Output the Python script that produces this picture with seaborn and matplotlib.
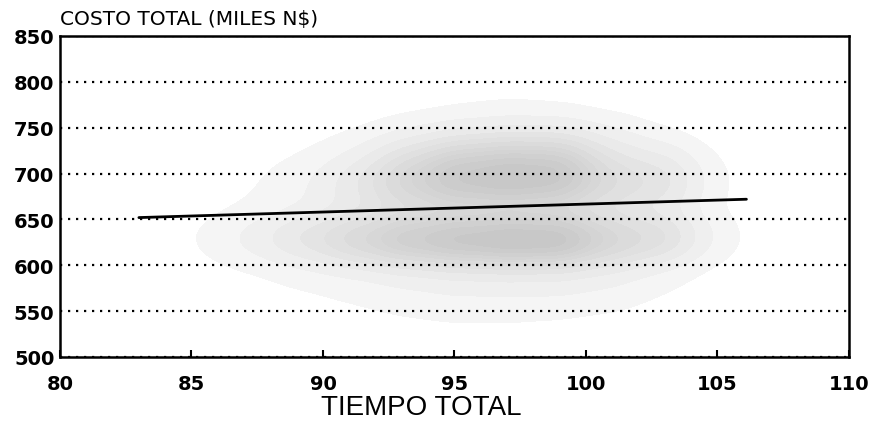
import matplotlib
matplotlib.use("Agg")
import matplotlib.pyplot as plt
import numpy as np
import pandas as pd
import seaborn as sns
from matplotlib.colors import LinearSegmentedColormap

# --- data ---
# cloud of simulated points, given as estimated point density per cell
cell_x = [85, 87, 89, 91, 93, 95, 97, 99, 101, 103, 105]
cell_y = [785, 775, 765, 755, 745, 735, 725, 715, 705, 695, 685, 675, 665, 655,
          645, 635, 625, 615, 605, 595, 585, 575, 565, 555, 545, 535, 525, 515]
density = [
    [0, 0, 0, 0, 0, 0.3, 0.5, 0.3, 0, 0, 0],
    [0, 0, 0, 0, 0.3, 0.5, 0.8, 0.6, 0.3, 0, 0],
    [0, 0, 0, 0.2, 0.5, 0.8, 1.0, 1.0, 0.5, 0.2, 0],
    [0, 0, 0, 0.3, 0.8, 1.2, 1.5, 1.5, 1.0, 0.3, 0],
    [0, 0, 0.2, 0.5, 1.3, 2.2, 2.5, 2.5, 1.5, 0.6, 0],
    [0, 0, 0.3, 0.8, 2.2, 3.5, 4.0, 4.0, 2.0, 1.2, 0.2],
    [0, 0.2, 0.4, 1.2, 3.0, 4.5, 5.0, 5.0, 2.5, 1.8, 0.3],
    [0, 0.3, 0.6, 1.5, 3.8, 6.0, 6.5, 6.5, 3.0, 2.5, 0.4],
    [0.1, 0.3, 0.8, 2.0, 4.5, 6.5, 7.0, 7.0, 3.5, 3.0, 0.5],
    [0.2, 0.4, 1.0, 2.5, 5.0, 7.0, 7.5, 7.5, 4.0, 3.5, 0.6],
    [0.2, 0.4, 1.0, 2.5, 5.0, 7.0, 7.5, 7.0, 4.0, 3.5, 0.6],
    [0.2, 0.5, 1.0, 2.2, 4.2, 5.5, 6.0, 5.5, 3.5, 3.0, 0.5],
    [0.2, 0.5, 1.0, 2.0, 3.0, 3.5, 3.5, 3.5, 2.5, 2.0, 0.4],
    [0.3, 0.8, 1.5, 2.5, 3.5, 4.0, 4.0, 4.0, 3.0, 2.5, 0.5],
    [0.4, 1.2, 2.5, 3.5, 5.0, 5.5, 6.0, 6.0, 4.0, 3.5, 0.8],
    [0.5, 1.5, 3.0, 4.5, 6.0, 7.0, 7.5, 7.5, 4.5, 4.0, 1.0],
    [0.5, 1.5, 3.0, 4.5, 6.5, 7.5, 8.0, 8.0, 5.0, 4.0, 1.0],
    [0.4, 1.2, 2.5, 4.0, 5.5, 6.5, 7.0, 7.0, 4.5, 3.5, 0.8],
    [0.3, 0.8, 1.5, 2.5, 3.5, 4.0, 4.5, 4.5, 3.0, 2.0, 0.5],
    [0.2, 0.5, 1.0, 1.5, 2.0, 2.5, 2.5, 2.5, 2.0, 1.0, 0.3],
    [0.1, 0.3, 0.7, 1.0, 1.5, 1.8, 2.0, 2.0, 1.5, 0.8, 0.2],
    [0, 0.2, 0.5, 0.8, 1.2, 1.5, 1.5, 1.5, 1.2, 0.6, 0.2],
    [0, 0.2, 0.4, 0.6, 1.0, 1.2, 1.2, 1.2, 1.0, 0.5, 0.1],
    [0, 0.1, 0.3, 0.5, 0.8, 1.0, 1.0, 1.0, 0.8, 0.3, 0],
    [0, 0, 0.2, 0.3, 0.5, 0.7, 0.7, 0.6, 0.4, 0.2, 0],
    [0, 0, 0.1, 0.2, 0.4, 0.5, 0.5, 0.4, 0.2, 0, 0],
    [0, 0, 0, 0.1, 0.2, 0.3, 0.3, 0.2, 0.1, 0, 0],
    [0, 0, 0, 0, 0.1, 0.2, 0.2, 0.1, 0, 0, 0],
]

# fitted line (start / end)
line_x = [83.0, 106.1]
line_y = [652, 672]

x_ticks = [80, 85, 90, 95, 100, 105, 110]
y_ticks = [500, 550, 600, 650, 700, 750, 800, 850]

# long table for seaborn
gx, gy = np.meshgrid(cell_x, cell_y)
df = pd.DataFrame({"x": gx.ravel(), "y": gy.ravel(), "w": np.array(density).ravel()})
df = df[df["w"] > 0]

sns.set_theme(style="white")
plt.rcParams["font.family"] = ["DejaVu Sans"]

fig = plt.figure(figsize=(8.73, 4.31), dpi=100)
ax = fig.add_axes([0.0687, 0.1694, 0.9038, 0.7448])

grey = LinearSegmentedColormap.from_list("speckle", ["#f8f8f8", "#c6c6c6"])
sns.kdeplot(data=df, x="x", y="y", weights="w", fill=True, cmap=grey,
            levels=12, thresh=0.05, bw_adjust=0.6, ax=ax, zorder=1)

sns.lineplot(x=line_x, y=line_y, color="black", linewidth=2, ax=ax, zorder=4)

ax.set_xlim(80, 110)
ax.set_ylim(500, 850)
ax.set_xticks(x_ticks)
ax.set_yticks(y_ticks)
ax.set_xticklabels([str(t) for t in x_ticks], fontsize=14, fontweight="bold")
ax.set_yticklabels([str(t) for t in y_ticks], fontsize=14, fontweight="bold")
ax.tick_params(axis="x", direction="in", length=5, width=1.5, pad=12, colors="black", bottom=True)
ax.tick_params(axis="y", length=0, pad=4, colors="black")

ax.set_axisbelow(False)
ax.yaxis.grid(True, color="black", linestyle=(0, (1, 2.6)), linewidth=1.6)
ax.xaxis.grid(False)
for s in ax.spines.values():
    s.set_visible(True)
    s.set_color("black")
    s.set_linewidth(1.8)

ax.set_ylabel("")
ax.set_xlabel("TIEMPO TOTAL", fontsize=20, color="black",
              family=["Liberation Sans", "DejaVu Sans"])
ax.xaxis.set_label_coords(0.4575, -0.115)
ax.text(0.0, 1.025, "COSTO TOTAL (MILES N$)", transform=ax.transAxes,
        ha="left", va="bottom", fontsize=14.5, color="black")

fig.savefig("out.png", dpi=100, facecolor="white")
